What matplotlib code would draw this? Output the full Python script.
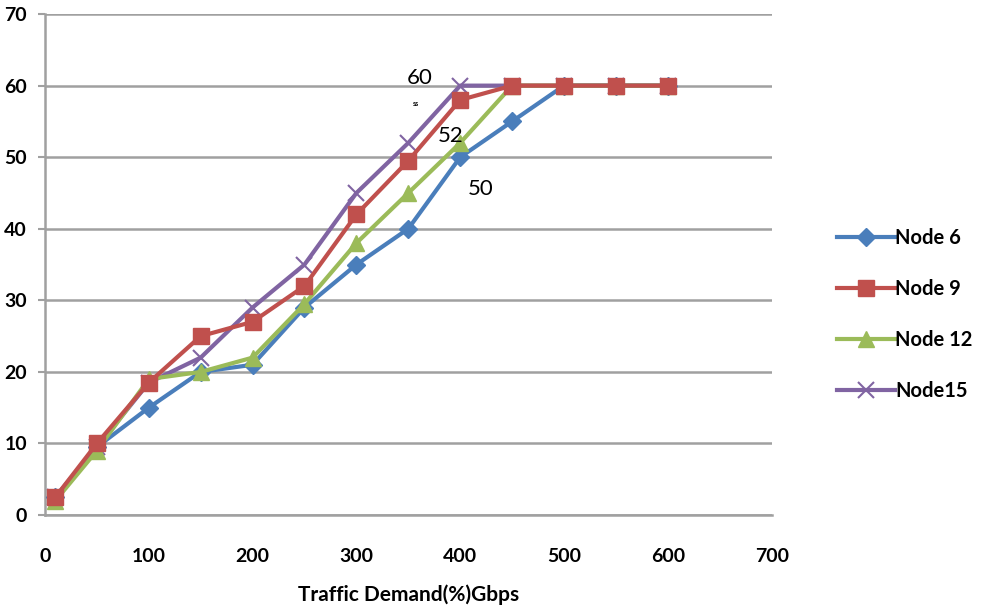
import matplotlib.pyplot as plt

plt.rcParams['font.family'] = ['Lato', 'DejaVu Sans']

# traffic demand values (x axis)
demand = [10, 50, 100, 150, 200, 250, 300, 350, 400, 450, 500, 550, 600]

# throughput per node count
node6 = [2.5, 9.5, 15, 20, 21, 29, 35, 40, 50, 55, 60, 60, 60]
node9 = [2.5, 10, 18.5, 25, 27, 32, 42, 49.5, 58, 60, 60, 60, 60]
node12 = [2, 9, 19, 20, 22, 29.5, 38, 45, 52, 60, 60, 60, 60]
node15 = [2.5, 9.5, 18.5, 22, 29, 35, 45, 52, 60, 60, 60, 60, 60]

series_names = ['Node 6', 'Node 9', 'Node 12', 'Node15']

fig = plt.figure(figsize=(9.86, 6.11), dpi=100)
ax = fig.add_axes([0.0456, 0.157, 0.737, 0.82])

# draw the four series
ax.plot(demand, node6, color='#4A7EBB', lw=3, marker='D', ms=9,
        label=series_names[0], zorder=3)
ax.plot(demand, node9, color='#C0504D', lw=3, marker='s', ms=12,
        label=series_names[1], zorder=4)
ax.plot(demand, node12, color='#9BBB59', lw=3, marker='^', ms=11,
        label=series_names[2], zorder=3)
ax.plot(demand, node15, color='#8064A2', lw=3, marker='x', ms=11, mew=1.5,
        label=series_names[3], zorder=2)

# value labels
ax.text(361, 61, '60', fontsize=16, ha='center', va='center')
ax.text(357, 57.5, 'ss', fontsize=5, fontweight='bold', ha='center', va='center')
ax.text(391, 53, '52', fontsize=16, ha='center', va='center')
ax.text(420, 45.5, '50', fontsize=16, ha='center', va='center')

# axes setup
ax.set_xlim(0, 700)
ax.set_ylim(0, 70)
ax.set_xticks(range(0, 701, 100))
ax.set_yticks(range(0, 71, 10))
ax.grid(axis='y', color='#A0A0A0', lw=1.8)
ax.set_axisbelow(True)
for side in ['top', 'right']:
    ax.spines[side].set_visible(False)
for side in ['left', 'bottom']:
    ax.spines[side].set_color('#A0A0A0')
    ax.spines[side].set_linewidth(1.8)
ax.tick_params(axis='both', colors='#A0A0A0', length=5, width=1.5,
               labelcolor='black', labelsize=14)
for lbl in ax.get_xticklabels() + ax.get_yticklabels():
    lbl.set_fontweight('bold')
ax.tick_params(axis='x', length=0, pad=24)
ax.tick_params(axis='y', pad=8)

ax.set_xlabel('Traffic Demand(%)Gbps', fontsize=15, fontweight='bold', labelpad=14)

# legend on the right
fig.legend(loc='center left', bbox_to_anchor=(0.83, 0.485), frameon=False,
           handlelength=2.9, handletextpad=0.0, labelspacing=1.55,
           prop={'weight': 'bold', 'size': 14.5})

plt.savefig('out.png', dpi=100)
